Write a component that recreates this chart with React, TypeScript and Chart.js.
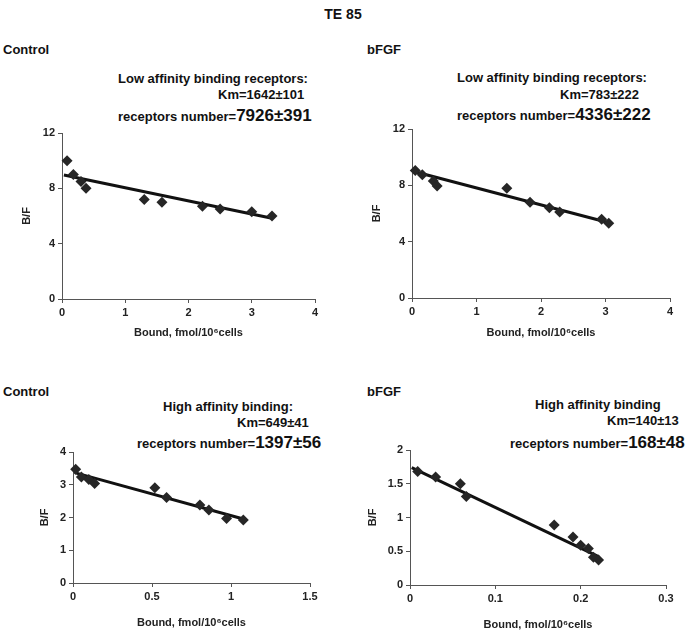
import React, { useEffect, useRef } from "react";
import { Chart, registerables } from "chart.js";

Chart.register(...registerables);

// ---- Data ----
// Top-left: Control, low affinity
const tlBound = [0.08, 0.18, 0.30, 0.38, 1.30, 1.58, 2.22, 2.50, 3.00, 3.32];
const tlBF = [10.0, 9.0, 8.5, 8.0, 7.2, 7.0, 6.7, 6.5, 6.3, 6.0];
const tlFitX = [0.03, 3.32];
const tlFitY = [8.96, 5.84];

// Top-right: bFGF, low affinity
const trBound = [0.05, 0.16, 0.33, 0.39, 1.47, 1.83, 2.13, 2.29, 2.94, 3.05];
const trBF = [9.05, 8.75, 8.3, 7.95, 7.8, 6.8, 6.4, 6.1, 5.6, 5.3];
const trFitX = [0.03, 3.07];
const trFitY = [8.98, 5.33];

// Bottom-left: Control, high affinity
const blBound = [0.017, 0.053, 0.10, 0.137, 0.518, 0.592, 0.803, 0.86, 0.972, 1.078];
const blBF = [3.47, 3.24, 3.16, 3.04, 2.91, 2.61, 2.38, 2.23, 1.97, 1.92];
const blFitX = [0.01, 1.09];
const blFitY = [3.37, 1.94];

// Bottom-right: bFGF, high affinity
const brBound = [0.009, 0.030, 0.059, 0.066, 0.169, 0.191, 0.200, 0.209, 0.215, 0.221];
const brBF = [1.68, 1.60, 1.50, 1.31, 0.89, 0.71, 0.59, 0.54, 0.41, 0.37];
const brFitX = [0.002, 0.221];
const brFitY = [1.74, 0.42];

// Axis ranges / tick steps
const tlXTicks = [0, 4, 1];
const tlYTicks = [0, 12, 4];
const trXTicks = [0, 4, 1];
const trYTicks = [0, 12, 4];
const blXTicks = [0, 1.5, 0.5];
const blYTicks = [0, 4, 1];
const brXTicks = [0, 0.3, 0.1];
const brYTicks = [0, 2, 0.5];

const xTitle = "Bound, fmol/10\u2076cells";
const yTitle = "B/F";

const FONT = "'Liberation Sans', Arial, Helvetica, sans-serif";

type PlotProps = {
  left: number;
  top: number;
  w: number;
  h: number;
  yw: number;
  xh: number;
  padTop: number;
  padRight: number;
  yTitlePad: number;
  xTitlePad: number;
  bx: number[];
  by: number[];
  fx: number[];
  fy: number[];
  xt: number[];
  yt: number[];
};

function fmt(v: number) {
  return String(Math.round(v * 100) / 100);
}

function Plot(p: PlotProps) {
  const ref = useRef<HTMLCanvasElement | null>(null);
  useEffect(() => {
    if (!ref.current) return;
    const pts = p.bx.map((x, i) => ({ x, y: p.by[i] }));
    const fit = p.fx.map((x, i) => ({ x, y: p.fy[i] }));
    const axisColor = "#555";
    const chart = new Chart(ref.current, {
      type: "scatter",
      data: {
        datasets: [
          {
            data: pts,
            pointStyle: "rectRot",
            pointRadius: 5.5,
            backgroundColor: "#262626",
            borderColor: "#262626",
            borderWidth: 0,
            clip: false as any,
          },
          {
            data: fit,
            showLine: true,
            pointRadius: 0,
            borderColor: "#111",
            borderWidth: 3,
            clip: false as any,
          },
        ],
      },
      options: {
        animation: false,
        responsive: false,
        devicePixelRatio: 1,
        events: [],
        layout: { padding: { top: p.padTop, right: p.padRight, left: 0, bottom: 0 } },
        plugins: { legend: { display: false }, tooltip: { enabled: false } },
        scales: {
          x: {
            type: "linear",
            min: p.xt[0],
            max: p.xt[1],
            afterFit: (s: any) => {
              s.height = p.xh;
            },
            ticks: {
              stepSize: p.xt[2],
              padding: 3,
              color: "#222",
              font: { family: FONT, size: 11, weight: "bold" },
              callback: (v: any) => fmt(Number(v)),
              maxRotation: 0,
            },
            grid: {
              display: true,
              drawOnChartArea: false,
              drawTicks: true,
              tickLength: 4,
              color: axisColor,
            },
            border: { display: true, color: axisColor, width: 1 },
            title: {
              display: true,
              text: xTitle,
              color: "#222",
              font: { family: FONT, size: 11, weight: "bold" },
              padding: { top: 0, bottom: p.xTitlePad },
            },
          },
          y: {
            type: "linear",
            min: p.yt[0],
            max: p.yt[1],
            afterFit: (s: any) => {
              s.width = p.yw;
            },
            ticks: {
              stepSize: p.yt[2],
              padding: 3,
              color: "#222",
              font: { family: FONT, size: 11, weight: "bold" },
              callback: (v: any) => fmt(Number(v)),
            },
            grid: {
              display: true,
              drawOnChartArea: false,
              drawTicks: true,
              tickLength: 4,
              color: axisColor,
            },
            border: { display: true, color: axisColor, width: 1 },
            title: {
              display: true,
              text: yTitle,
              color: "#222",
              font: { family: FONT, size: 11, weight: "bold" },
              padding: { top: p.yTitlePad, bottom: 0 },
            },
          },
        },
      },
    });
    return () => chart.destroy();
  }, []);
  return (
    <div style={{ position: "absolute", left: p.left, top: p.top, width: p.w, height: p.h }}>
      <canvas ref={ref} width={p.w} height={p.h} style={{ width: p.w, height: p.h, display: "block" }} />
    </div>
  );
}

function T(props: { x: number; y: number; size: number; children: React.ReactNode; center?: boolean }) {
  const { x, y, size, children, center } = props;
  return (
    <div
      style={{
        position: "absolute",
        left: center ? x - 200 : x,
        width: center ? 400 : undefined,
        textAlign: center ? "center" : "left",
        top: y - size * 0.6,
        fontSize: size,
        lineHeight: `${size * 1.2}px`,
        fontWeight: "bold",
        whiteSpace: "nowrap",
        color: "#111",
      }}
    >
      {children}
    </div>
  );
}

export default function App() {
  return (
    <div
      style={{
        position: "absolute",
        left: 0,
        top: 0,
        width: 685,
        height: 633,
        overflow: "hidden",
        background: "#fff",
        fontFamily: FONT,
      }}
    >
      <T x={343} y={14} size={14} center>
        TE 85
      </T>

      <T x={3} y={50} size={13}>Control</T>
      <T x={367} y={50} size={13}>bFGF</T>
      <T x={3} y={392} size={13}>Control</T>
      <T x={367} y={392} size={13}>bFGF</T>

      <T x={118} y={79} size={13}>Low affinity binding receptors:</T>
      <T x={218} y={95} size={13}>Km=1642±101</T>
      <T x={118} y={116} size={13}>
        receptors number=<span style={{ fontSize: 17 }}>7926±391</span>
      </T>

      <T x={457} y={78} size={13}>Low affinity binding receptors:</T>
      <T x={560} y={95} size={13}>Km=783±222</T>
      <T x={457} y={115} size={13}>
        receptors number=<span style={{ fontSize: 17 }}>4336±222</span>
      </T>

      <T x={163} y={407} size={13}>High affinity binding:</T>
      <T x={237} y={423} size={13}>Km=649±41</T>
      <T x={137} y={443} size={13}>
        receptors number=<span style={{ fontSize: 17 }}>1397±56</span>
      </T>

      <T x={535} y={405} size={13}>High affinity binding</T>
      <T x={607} y={421} size={13}>Km=140±13</T>
      <T x={510} y={443} size={13}>
        receptors number=<span style={{ fontSize: 17 }}>168±48</span>
      </T>

      <Plot left={10} top={121} w={320} h={223} yw={52} xh={45} padTop={12} padRight={15}
        yTitlePad={10} xTitlePad={4} bx={tlBound} by={tlBF} fx={tlFitX} fy={tlFitY} xt={tlXTicks} yt={tlYTicks} />
      <Plot left={360} top={117} w={322} h={226} yw={52} xh={45} padTop={12} padRight={12}
        yTitlePad={10} xTitlePad={3} bx={trBound} by={trBF} fx={trFitX} fy={trFitY} xt={trXTicks} yt={trYTicks} />
      <Plot left={21} top={440} w={304} h={193} yw={52} xh={50} padTop={12} padRight={15}
        yTitlePad={17} xTitlePad={3} bx={blBound} by={blBF} fx={blFitX} fy={blFitY} xt={blXTicks} yt={blYTicks} />
      <Plot left={358} top={438} w={323} h={195} yw={52} xh={48} padTop={12} padRight={15}
        yTitlePad={8} xTitlePad={1} bx={brBound} by={brBF} fx={brFitX} fy={brFitY} xt={brXTicks} yt={brYTicks} />
    </div>
  );
}
